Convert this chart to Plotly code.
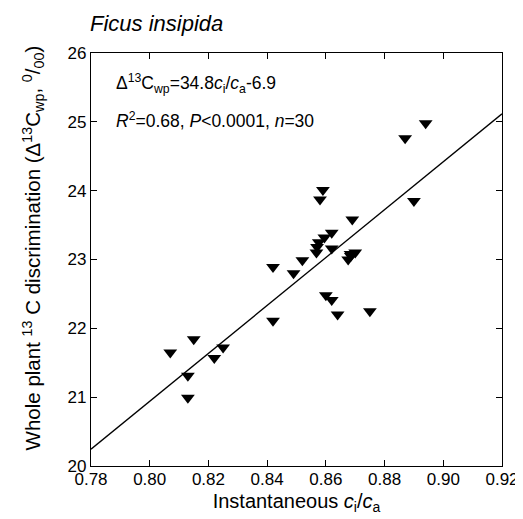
import plotly.graph_objects as go

# Instantaneous ci/ca
ci_ca = [0.894, 0.887, 0.859, 0.858, 0.869, 0.890, 0.862, 0.8595, 0.8576, 0.857,
         0.8568, 0.862, 0.852, 0.849, 0.842, 0.870, 0.8684, 0.8676, 0.860, 0.862,
         0.864, 0.875, 0.842, 0.825, 0.822, 0.815, 0.807, 0.813, 0.813, 0.8685]
# Whole plant 13C discrimination (per mil)
delta13c = [24.98, 24.76, 24.01, 23.87, 23.58, 23.85, 23.39, 23.32, 23.25, 23.18,
            23.10, 23.16, 22.99, 22.80, 22.89, 23.10, 23.08, 23.00, 22.48, 22.41,
            22.20, 22.25, 22.11, 21.72, 21.57, 21.84, 21.65, 21.31, 20.99, 23.05]

slope = 34.8
intercept = -6.9
line_x = [0.78, 0.92]
line_y = [slope * v + intercept for v in line_x]

x_ticks = [0.78, 0.80, 0.82, 0.84, 0.86, 0.88, 0.90, 0.92]
x_tick_labels = ["0.78", "0.80", "0.82", "0.84", "0.86", "0.88", "0.90", "0.92"]
y_ticks = [20, 21, 22, 23, 24, 25, 26]

FONT = "Arial, Liberation Sans, sans-serif"

fig = go.Figure()
fig.add_trace(go.Scatter(x=line_x, y=line_y, mode="lines",
                         line=dict(color="black", width=1.3), showlegend=False))
fig.add_trace(go.Scatter(x=ci_ca, y=delta13c, mode="markers",
                         marker=dict(symbol="triangle-down", size=12, color="black"),
                         showlegend=False))

fig.update_layout(
    width=523, height=519,
    margin=dict(l=83, r=21, t=45, b=61),
    plot_bgcolor="white", paper_bgcolor="white",
    font=dict(family=FONT, size=17, color="black"),
    xaxis=dict(range=[0.78, 0.92], tickvals=x_ticks, ticktext=x_tick_labels,
               ticks="inside", ticklen=6, tickwidth=1, tickcolor="black",
               showline=True, linecolor="black", linewidth=1.2, mirror="ticks",
               showgrid=False, zeroline=False, ticklabelstandoff=-3,
               title=dict(text="Instantaneous <i>c</i><sub>i</sub>/<i>c</i><sub>a</sub>",
                          font=dict(size=20), standoff=6)),
    yaxis=dict(range=[20, 26], tickvals=y_ticks,
               ticks="inside", ticklen=6, tickwidth=1, tickcolor="black",
               showline=True, linecolor="black", linewidth=1.2, mirror="ticks",
               showgrid=False, zeroline=False),
    annotations=[
        dict(text="Whole plant <sup>13</sup> C discrimination (Δ<sup>13</sup>C<sub>wp</sub>, <sup>0</sup>/<sub>00</sub>)",
             xref="paper", yref="paper", x=-0.14, y=0.528, textangle=-90,
             xanchor="center", yanchor="middle", showarrow=False, font=dict(size=20.5)),
        dict(text="<i>Ficus insipida</i>", xref="paper", yref="paper",
             x=0.0, y=1.0, xshift=-3, yshift=30, xanchor="left", yanchor="middle",
             showarrow=False, font=dict(size=22)),
        dict(text="Δ<sup>13</sup>C<sub>wp</sub>=34.8<i>c</i><sub>i</sub>/<i>c</i><sub>a</sub>-6.9",
             xref="paper", yref="paper", x=0.055, y=0.927, xanchor="left", yanchor="middle",
             showarrow=False, font=dict(size=17.5)),
        dict(text="<i>R</i><sup>2</sup>=0.68, <i>P</i><0.0001, <i>n</i>=30",
             xref="paper", yref="paper", x=0.055, y=0.838, xanchor="left", yanchor="middle",
             showarrow=False, font=dict(size=17.5)),
    ],
)

fig.write_html("out.html")
